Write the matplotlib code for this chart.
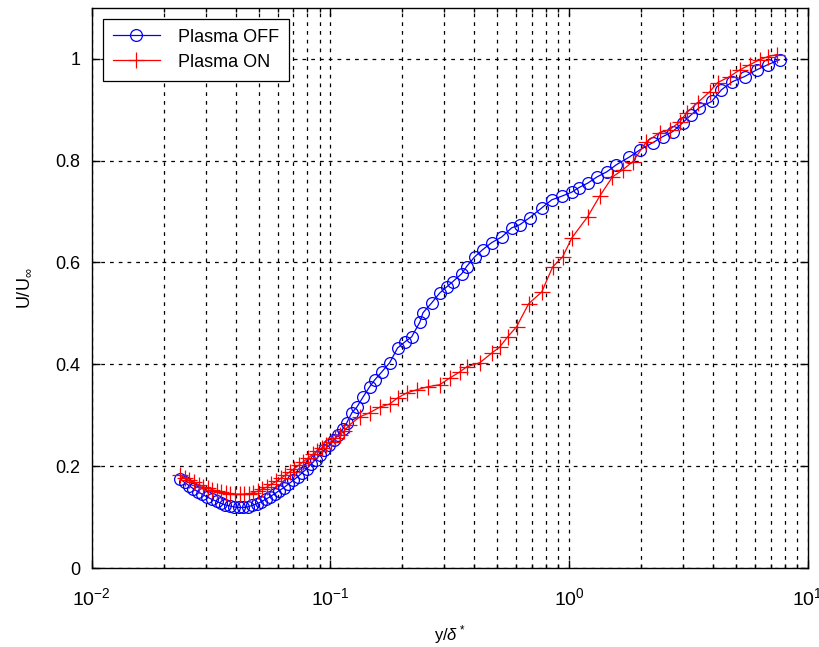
import matplotlib
matplotlib.use("Agg")
import matplotlib.pyplot as plt
from matplotlib.ticker import LogLocator, FormatStrFormatter

plt.rcParams['font.family'] = ['Liberation Sans', 'DejaVu Sans']
plt.rcParams['mathtext.fontset'] = 'custom'
plt.rcParams['mathtext.rm'] = 'Liberation Sans'
plt.rcParams['mathtext.it'] = 'Liberation Sans:italic'

# Velocity profiles: wall distance y/delta* and normalised velocity U/U_inf
off_x = [0.0235, 0.0245, 0.0255, 0.0266, 0.0278, 0.0290, 0.0303, 0.0318, 0.0333, 0.0348,
         0.0362, 0.0378, 0.0395, 0.0412, 0.0430, 0.0450, 0.0470, 0.0490, 0.0512, 0.0535,
         0.0558, 0.0584, 0.0610, 0.0638, 0.0667, 0.0697, 0.0728, 0.0761, 0.0795, 0.0830,
         0.0866, 0.0904, 0.0943, 0.0985, 0.1030, 0.1078, 0.1125, 0.117, 0.123, 0.129,
         0.137, 0.146, 0.153, 0.164, 0.177, 0.191, 0.205, 0.219, 0.237, 0.244,
         0.266, 0.287, 0.307, 0.325, 0.355, 0.372, 0.402, 0.434, 0.474, 0.522,
         0.575, 0.621, 0.684, 0.768, 0.846, 0.931, 1.026, 1.10, 1.20, 1.31,
         1.44, 1.58, 1.79, 1.98, 2.24, 2.47, 2.72, 2.99, 3.25, 3.52,
         3.96, 4.35, 4.84, 5.44, 6.11, 6.79, 7.62]
off_u = [0.175, 0.168, 0.162, 0.156, 0.150, 0.145, 0.140, 0.135, 0.131, 0.127,
         0.124, 0.122, 0.120, 0.119, 0.119, 0.120, 0.123, 0.126, 0.130, 0.135,
         0.140, 0.146, 0.152, 0.158, 0.165, 0.172, 0.179, 0.187, 0.195, 0.204,
         0.213, 0.222, 0.232, 0.241, 0.251, 0.262, 0.273, 0.285, 0.305, 0.316,
         0.336, 0.356, 0.369, 0.385, 0.403, 0.432, 0.444, 0.454, 0.483, 0.501,
         0.521, 0.540, 0.552, 0.562, 0.578, 0.592, 0.611, 0.625, 0.639, 0.650,
         0.668, 0.674, 0.688, 0.707, 0.723, 0.730, 0.738, 0.747, 0.756, 0.768,
         0.778, 0.792, 0.807, 0.821, 0.835, 0.847, 0.857, 0.874, 0.890, 0.904,
         0.916, 0.939, 0.955, 0.965, 0.978, 0.988, 0.998]

on_x = [0.0235, 0.0245, 0.0256, 0.0268, 0.0280, 0.0293, 0.0306, 0.0320, 0.0334, 0.0349,
        0.0365, 0.0381, 0.0398, 0.0416, 0.0435, 0.0455, 0.0475, 0.0496, 0.0518, 0.0541,
        0.0566, 0.0591, 0.0618, 0.0646, 0.0675, 0.0705, 0.0737, 0.0770, 0.0805, 0.0841,
        0.0879, 0.0918, 0.0960, 0.1003, 0.1048, 0.1095, 0.1145, 0.120, 0.133, 0.146,
        0.161, 0.177, 0.191, 0.209, 0.230, 0.256, 0.287, 0.316, 0.348, 0.372,
        0.422, 0.474, 0.512, 0.553, 0.603, 0.677, 0.768, 0.853, 0.940, 1.026,
        1.197, 1.343, 1.52, 1.68, 1.85, 2.11, 2.40, 2.64, 2.91, 3.11,
        3.46, 3.88, 4.19, 4.71, 5.19, 5.71, 6.29, 6.80, 7.41]
on_u = [0.182, 0.177, 0.172, 0.168, 0.164, 0.160, 0.157, 0.154, 0.151, 0.149,
        0.147, 0.146, 0.145, 0.145, 0.145, 0.146, 0.148, 0.151, 0.155, 0.159,
        0.165, 0.170, 0.176, 0.182, 0.189, 0.195, 0.202, 0.209, 0.216, 0.223,
        0.229, 0.236, 0.242, 0.248, 0.255, 0.262, 0.270, 0.281, 0.297, 0.305,
        0.316, 0.322, 0.334, 0.344, 0.350, 0.356, 0.360, 0.373, 0.385, 0.395,
        0.403, 0.422, 0.434, 0.454, 0.474, 0.519, 0.542, 0.591, 0.611, 0.648,
        0.690, 0.730, 0.768, 0.782, 0.798, 0.837, 0.855, 0.861, 0.876, 0.894,
        0.914, 0.935, 0.953, 0.965, 0.978, 0.988, 0.998, 1.004, 1.008]

series_labels = ["Plasma OFF", "Plasma ON"]
y_ticks = [0, 0.2, 0.4, 0.6, 0.8, 1.0]

fig = plt.figure(figsize=(8.2, 6.47), dpi=100)
ax = fig.add_axes([0.112, 0.122, 0.873, 0.866])

ax.semilogx(off_x, off_u, color='blue', lw=0.9, marker='o', ms=8.5,
            mfc='none', mec='blue', mew=0.9, label=series_labels[0])
ax.semilogx(on_x, on_u, color='red', lw=0.9, marker='+', ms=11,
            mec='red', mew=0.9, label=series_labels[1])

ax.set_xlim(1e-2, 1e1)
ax.set_ylim(0, 1.1)
ax.xaxis.set_major_locator(LogLocator(base=10, numticks=10))
ax.xaxis.set_minor_locator(LogLocator(base=10, subs=range(2, 10), numticks=20))
ax.set_yticks(y_ticks)
ax.yaxis.set_major_formatter(FormatStrFormatter('%g'))

grid_style = dict(color='black', linestyle=(0, (3, 4)), linewidth=0.9)
ax.grid(True, which='major', axis='both', **grid_style)
ax.grid(True, which='minor', axis='x', **grid_style)
ax.set_axisbelow(True)

ax.tick_params(which='both', direction='in', top=True, right=True, width=1.0)
ax.tick_params(axis='y', labelsize=13, pad=8)
ax.tick_params(axis='x', labelsize=14, pad=14)
ax.tick_params(which='major', length=6)
ax.tick_params(which='minor', length=3)
for s in ax.spines.values():
    s.set_linewidth(1.0)
    s.set_color('black')

ax.set_xlabel(r'y/$\delta^*$', fontsize=12, labelpad=10)
ax.set_ylabel(r'U/U$_\infty$', fontsize=13, labelpad=16)

leg = ax.legend(loc='upper left', fontsize=13, frameon=True, fancybox=False,
                edgecolor='black', framealpha=1, borderpad=0.55,
                handlelength=2.6, handletextpad=1.0, borderaxespad=0.6,
                labelspacing=0.45)
leg.get_frame().set_linewidth(0.9)

fig.savefig('out.png', dpi=100)
